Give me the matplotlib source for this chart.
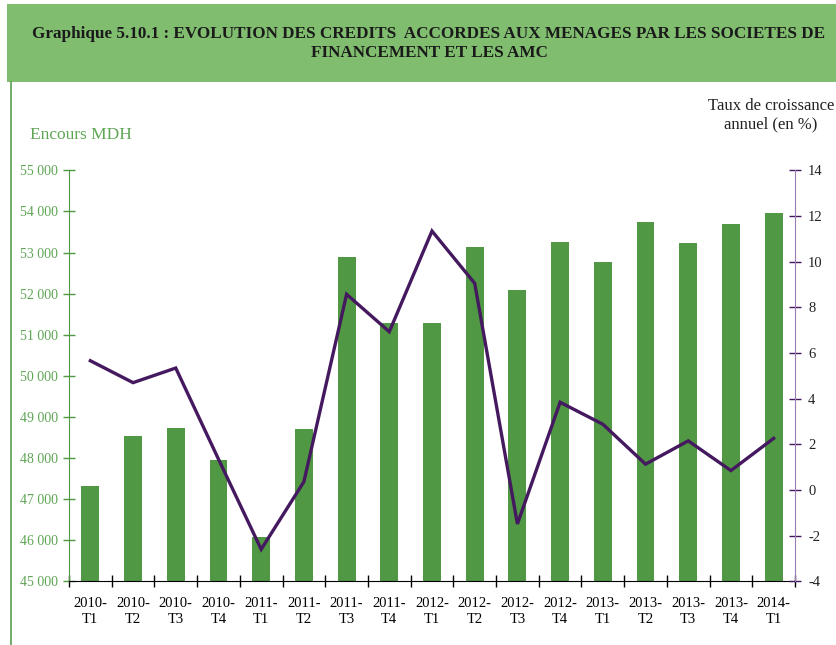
import numpy as np
import matplotlib.pyplot as plt
from matplotlib.patches import Rectangle
from matplotlib.lines import Line2D
from matplotlib.ticker import FuncFormatter, MultipleLocator

trimestres = ['2010-\nT1', '2010-\nT2', '2010-\nT3', '2010-\nT4',
              '2011-\nT1', '2011-\nT2', '2011-\nT3', '2011-\nT4',
              '2012-\nT1', '2012-\nT2', '2012-\nT3', '2012-\nT4',
              '2013-\nT1', '2013-\nT2', '2013-\nT3', '2013-\nT4',
              '2014-\nT1']

# encours en MDH
encours = [47320, 48540, 48730, 47960, 46080, 48710, 52900, 51290,
           51290, 53140, 52090, 53260, 52780, 53730, 53220, 53700, 53970]

# taux de croissance annuel en %
taux = [5.66, 4.70, 5.34, 1.35, -2.60, 0.36, 8.57, 6.93,
        11.34, 9.05, -1.49, 3.84, 2.88, 1.13, 2.15, 0.85, 2.26]

vert_barre = '#509844'
vert_texte = '#5fa555'
violet = '#45195f'
violet_clair = '#9b7cb6'

plt.rcParams['font.family'] = 'Liberation Serif'
plt.rcParams['axes.unicode_minus'] = False

fig = plt.figure(figsize=(8.37, 6.45), dpi=100)

# bandeau du titre
fig.add_artist(Rectangle((7 / 837, 1 - 82 / 645), 830 / 837, 78 / 645,
                         transform=fig.transFigure, facecolor='#80bd6f',
                         edgecolor='none'))
fig.text(429 / 837, 1 - 43.5 / 645,
         'Graphique 5.10.1 : EVOLUTION DES CREDITS  ACCORDES AUX MENAGES PAR LES SOCIETES DE\nFINANCEMENT ET LES AMC',
         ha='center', va='center', fontsize=12.3, fontweight='bold',
         color='#1a1a1a', linespacing=1.32)
fig.add_artist(Line2D([11.5 / 837, 11.5 / 837], [0, 1 - 82 / 645],
                      transform=fig.transFigure, color='#5aa050', lw=1.2))

ax = fig.add_axes([69 / 837, 1 - 581.3 / 645, 726 / 837, 411 / 645])
x = np.arange(len(trimestres))
ax.bar(x, encours, width=0.42, color=vert_barre, zorder=2)
ax.set_xlim(-0.5, len(trimestres) - 0.5)
ax.set_ylim(45000, 55000)
ax.yaxis.set_major_locator(MultipleLocator(1000))
ax.yaxis.set_major_formatter(FuncFormatter(lambda v, p: f'{int(v):,}'.replace(',', ' ')))

# graduations aux limites des trimestres, libellés au centre
ax.set_xticks(np.arange(len(trimestres) + 1) - 0.5)
ax.set_xticklabels([])
ax.set_xticks(x, minor=True)
ax.set_xticklabels(trimestres, minor=True, fontsize=10.5, linespacing=1.35)
ax.tick_params(axis='x', which='major', direction='inout', length=8, width=1, color='black')
ax.tick_params(axis='x', which='minor', length=0, pad=11)
ax.tick_params(axis='y', direction='inout', length=8, width=1, color=vert_barre,
               labelcolor=vert_texte, labelsize=10, pad=4)

for s in ['top', 'right']:
    ax.spines[s].set_visible(False)
ax.spines['left'].set_color(vert_barre)
ax.spines['bottom'].set_color('black')
ax.spines['bottom'].set_zorder(4)

ax2 = ax.twinx()
ax2.plot(x, taux, color=violet, lw=2.4, zorder=3, solid_joinstyle='miter')
ax2.set_ylim(-4, 14)
ax2.yaxis.set_major_locator(MultipleLocator(2))
ax2.tick_params(axis='y', direction='inout', length=9, width=1, color=violet,
                labelcolor='#222222', labelsize=10.5, pad=5)
for s in ['top', 'left', 'bottom']:
    ax2.spines[s].set_visible(False)
ax2.spines['right'].set_color(violet_clair)

fig.text(30 / 837, 1 - 135 / 645, 'Encours MDH', color=vert_texte,
         fontsize=12.5, ha='left', va='center')
fig.text(771 / 837, 1 - 115 / 645, 'Taux de croissance\nannuel (en %)',
         color='#222222', fontsize=12, ha='center', va='center', linespacing=1.25)

fig.savefig('out.png', dpi=100)
